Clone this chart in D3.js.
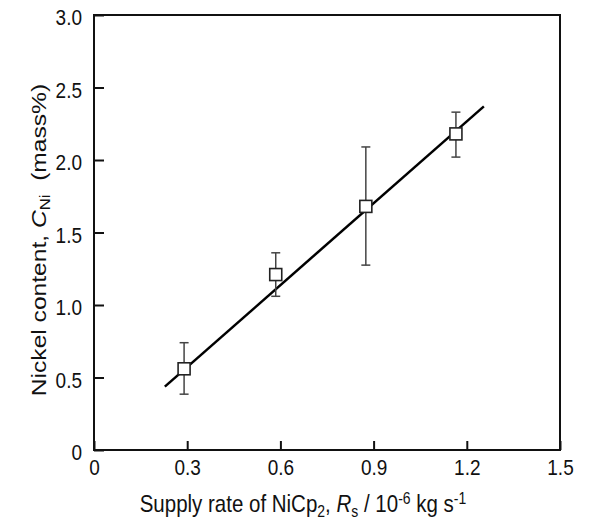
<!DOCTYPE html>
<html><head><meta charset="utf-8">
<script src="https://cdn.jsdelivr.net/npm/d3@7/dist/d3.min.js"></script>
<style>body{margin:0;background:#fff}text{font-family:"Liberation Sans",Arial,sans-serif;fill:#111}</style>
</head><body><svg id="c" width="601" height="521"></svg>
<script>
const supplyRate = [0.29, 0.585, 0.875, 1.165];
const nickel = [0.56, 1.21, 1.68, 2.18];
const errLow = [0.385, 1.06, 1.275, 2.02];
const errHigh = [0.74, 1.36, 2.09, 2.33];
const fitX = [0.228, 1.255];
const fitY = [0.437, 2.37];
const xTicks = [0, 0.3, 0.6, 0.9, 1.2, 1.5];
const xTickLabels = ["0", "0.3", "0.6", "0.9", "1.2", "1.5"];
const yTicks = [0, 0.5, 1.0, 1.5, 2.0, 2.5, 3.0];
const yTickLabels = ["0", "0.5", "1.0", "1.5", "2.0", "2.5", "3.0"];

const svg = d3.select("#c");
const L = 94, R = 560, T = 15, B = 450;
const SY = 1.2; // vertical stretch of the reference text
const x = d3.scaleLinear().domain([0, 1.5]).range([L, R]);
const y = d3.scaleLinear().domain([0, 3]).range([B, T]);
const FF = '"Liberation Sans",Arial,sans-serif';

// axes with inward ticks
const xAxis = d3.axisBottom(x).tickValues(xTicks).tickSizeInner(-9).tickSizeOuter(0)
  .tickFormat((d, i) => xTickLabels[i]);
const gx = svg.append("g").attr("transform", `translate(0,${B})`).call(xAxis);
gx.select(".domain").remove();
gx.selectAll("line").attr("stroke", "#111").attr("stroke-width", 2);
gx.selectAll("text").attr("font-size", 19).attr("fill", "#111").style("font-family", FF)
  .attr("y", 0).attr("dy", "0.35em").attr("transform", `translate(0,17) scale(1,${SY})`);

const yAxis = d3.axisLeft(y).tickValues(yTicks).tickSizeInner(-10).tickSizeOuter(0)
  .tickFormat((d, i) => yTickLabels[i]);
const gy = svg.append("g").attr("transform", `translate(${L},0)`).call(yAxis);
gy.select(".domain").remove();
gy.selectAll("line").attr("stroke", "#111").attr("stroke-width", 2);
gy.selectAll("text").attr("font-size", 19).attr("fill", "#111").style("font-family", FF)
  .attr("x", 0).attr("dy", "0.35em").attr("transform", `translate(-12,2) scale(1,${SY})`);

// frame
svg.append("rect").attr("x", L).attr("y", T).attr("width", R - L).attr("height", B - T)
  .attr("fill", "none").attr("stroke", "#111").attr("stroke-width", 2);

// fit line
svg.append("line").attr("x1", x(fitX[0])).attr("y1", y(fitY[0]))
  .attr("x2", x(fitX[1])).attr("y2", y(fitY[1]))
  .attr("stroke", "#000").attr("stroke-width", 2.5);

// error bars
const data = supplyRate.map((v, i) => ({x: v, y: nickel[i], lo: errLow[i], hi: errHigh[i]}));
const eb = svg.append("g").attr("stroke", "#444").attr("stroke-width", 1.5);
data.forEach(d => {
  eb.append("line").attr("x1", x(d.x)).attr("x2", x(d.x)).attr("y1", y(d.lo)).attr("y2", y(d.hi));
  eb.append("line").attr("x1", x(d.x) - 4.5).attr("x2", x(d.x) + 4.5).attr("y1", y(d.lo)).attr("y2", y(d.lo));
  eb.append("line").attr("x1", x(d.x) - 4.5).attr("x2", x(d.x) + 4.5).attr("y1", y(d.hi)).attr("y2", y(d.hi));
});
svg.append("g").selectAll("rect").data(data).join("rect")
  .attr("x", d => x(d.x) - 6).attr("y", d => y(d.y) - 6).attr("width", 12).attr("height", 12)
  .attr("fill", "#fff").attr("stroke", "#222").attr("stroke-width", 1.6);

// x label
const xl = svg.append("text").attr("transform", `translate(303,512) scale(1,${SY})`)
  .attr("text-anchor", "middle").attr("font-size", 20.5);
xl.append("tspan").text("Supply rate of NiCp");
xl.append("tspan").attr("font-size", 14).attr("dy", 4).text("2");
xl.append("tspan").attr("dy", -4).text(", ");
xl.append("tspan").attr("font-style", "italic").text("R");
xl.append("tspan").attr("font-size", 14).attr("dy", 4).text("s");
xl.append("tspan").attr("dy", -4).text(" / 10");
xl.append("tspan").attr("font-size", 14).attr("dy", -7).text("-6");
xl.append("tspan").attr("dy", 7).text(" kg s");
xl.append("tspan").attr("font-size", 14).attr("dy", -7).text("-1");

// y label
const yl = svg.append("text").attr("transform", `translate(46,240) scale(1,${SY}) rotate(-90)`)
  .attr("text-anchor", "middle").attr("font-size", 20.5);
yl.append("tspan").text("Nickel content, ");
yl.append("tspan").attr("font-style", "italic").text("C");
yl.append("tspan").attr("font-size", 14).attr("dy", 4).text("Ni");
yl.append("tspan").attr("dy", -4).attr("xml:space", "preserve").text("  (mass%)");
</script></body></html>
